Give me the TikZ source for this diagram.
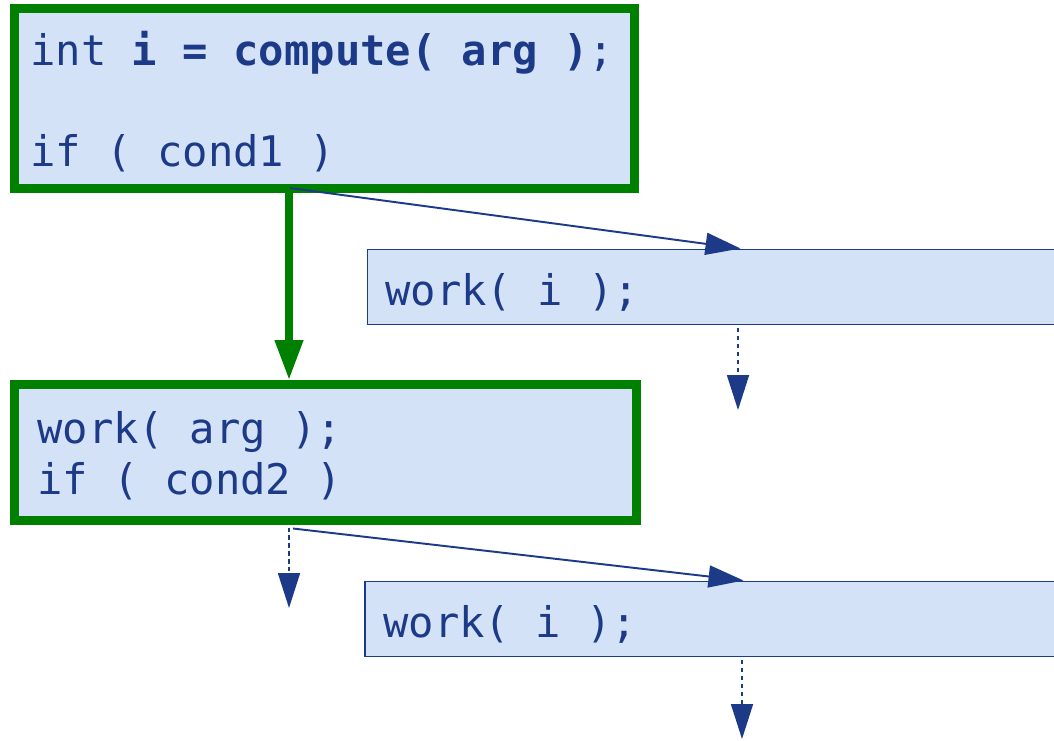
\documentclass[tikz,border=0pt]{standalone}
\usepackage{fontspec}
\setmonofont{DejaVu Sans Mono}
\usetikzlibrary{arrows.meta}
\definecolor{codeblue}{RGB}{28,58,135}
\definecolor{blockfill}{RGB}{212,226,247}
\definecolor{hotgreen}{RGB}{0,128,0}
\tikzset{
  hotblock/.style={draw=hotgreen,line width=0.18cm,fill=blockfill,inner sep=0pt,anchor=north west},
  coldblock/.style={draw=codeblue,line width=0.9pt,fill=blockfill,inner sep=0pt,anchor=north west},
  code/.style={font=\fontsize{24}{29}\selectfont\ttfamily,text=codeblue,inner sep=0pt,anchor=base west},
  hotpath/.style={draw=hotgreen,line width=0.15cm,-{Triangle[length=0.8cm,width=0.54cm]}},
  branch/.style={draw=codeblue,line width=1.1pt,-{Triangle[length=0.7cm,width=0.44cm]}},
  fallthru/.style={draw=codeblue,line width=1pt,dash pattern=on 2.5pt off 2pt,shorten <=0.06cm,-{Triangle[length=0.7cm,width=0.44cm]}}
}
\begin{document}
\begin{tikzpicture}
  \useasboundingbox (0,0) rectangle (21.08,-14.8);
  \clip (0,0) rectangle (21.08,-14.8);
  \node[hotblock,minimum width=12.4cm,minimum height=3.6cm] (blockA) at (0.20,-0.08) {};
  \node[coldblock,minimum width=14.66cm,minimum height=1.5cm] (blockB) at (7.33,-4.97) {};
  \node[hotblock,minimum width=12.44cm,minimum height=2.71cm] (blockC) at (0.20,-7.60) {};
  \node[coldblock,minimum width=14.71cm,minimum height=1.5cm] (blockD) at (7.28,-11.61) {};
  \node[code] (callA) at (0.60,-1.30) {int \textbf{i = compute( arg )};};
  \node[code] (condA) at (0.60,-3.32) {if ( cond1 )};
  \node[code] (workB) at (7.70,-6.10) {work( i );};
  \node[code] (workC) at (0.74,-8.86) {work( arg );};
  \node[code] (condC) at (0.74,-9.88) {if ( cond2 )};
  \node[code] (workD) at (7.66,-12.74) {work( i );};
  \coordinate (forkA) at ([xshift=5.58cm]blockA.south west);
  \coordinate (nextB) at (14.76,-8.2);
  \coordinate (nextC) at (5.78,-12.16);
  \coordinate (nextD) at (14.84,-14.78);
  \draw[hotpath] (forkA) -- (forkA |- blockC.north);
  \draw[branch] ([xshift=0.02cm,yshift=0.1cm]forkA) -- ([xshift=7.48cm]blockB.north west);
  \draw[fallthru] (nextB |- blockB.south) -- (nextB);
  \draw[fallthru] (nextC |- blockC.south) -- (nextC);
  \draw[branch] ([xshift=5.66cm,yshift=-0.08cm]blockC.south west) -- ([xshift=7.59cm]blockD.north west);
  \draw[fallthru] (nextD |- blockD.south) -- (nextD);
\end{tikzpicture}
\end{document}
